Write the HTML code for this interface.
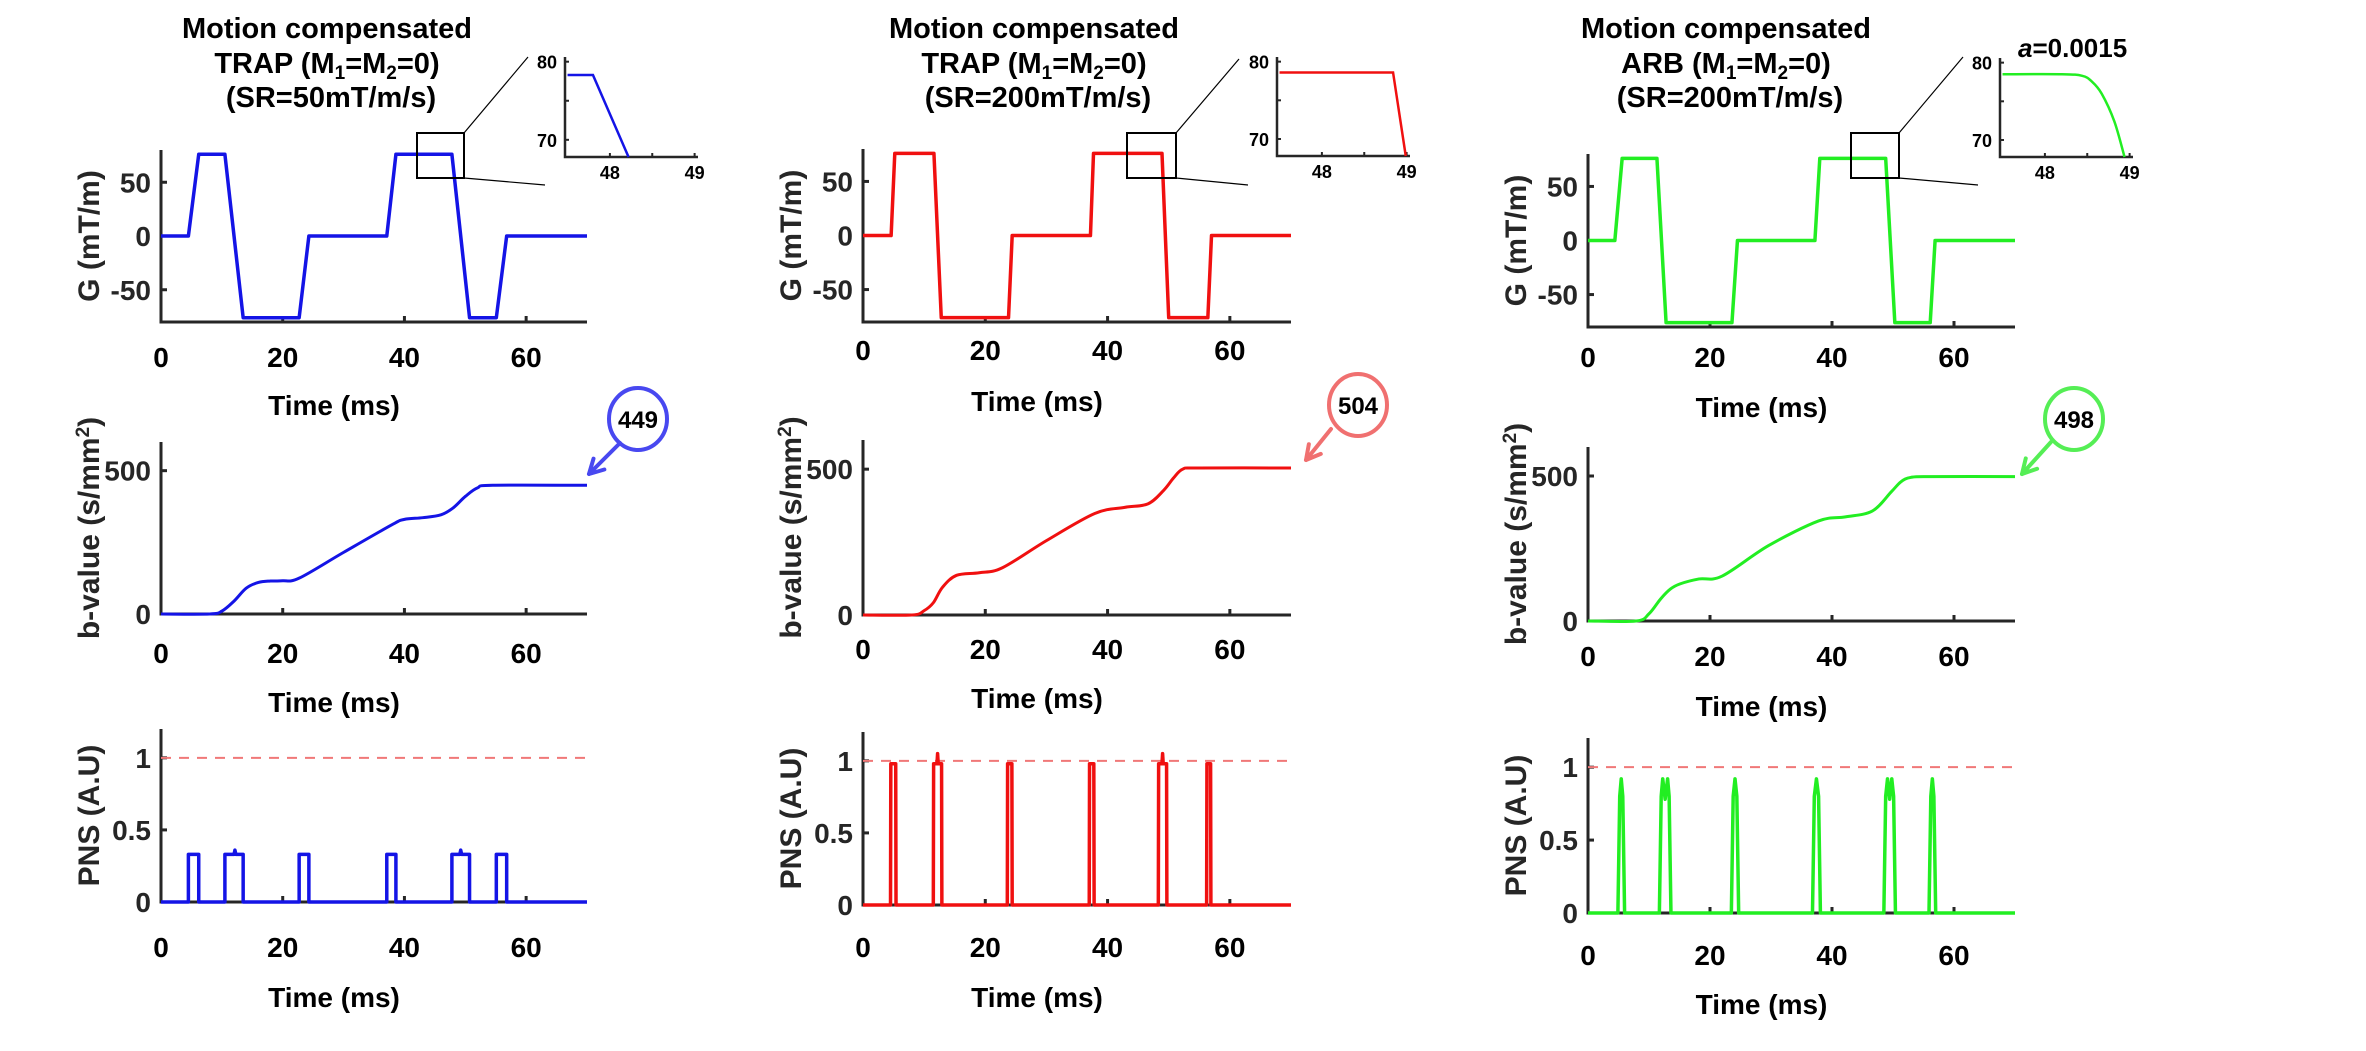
<!DOCTYPE html>
<html><head><meta charset="utf-8"><style>
html,body{margin:0;padding:0;background:#fff;}
svg{display:block;font-family:"Liberation Sans",Arial,sans-serif;font-weight:bold;}
</style></head><body>
<svg id="fig" width="2366" height="1051" viewBox="0 0 2366 1051" xmlns="http://www.w3.org/2000/svg">
<rect width="2366" height="1051" fill="#fff"/>
<g id="titles">
  <text text-anchor="middle" font-size="29">
    <tspan x="331" y="38">Motion compensated</tspan>
    <tspan x="331" y="73">TRAP (M<tspan font-size="19" dy="6">1</tspan><tspan dy="-6">=M</tspan><tspan font-size="19" dy="6">2</tspan><tspan dy="-6">=0)</tspan></tspan>
    <tspan x="331" y="107">(SR=50mT/m/s)</tspan>
  </text>
  <text text-anchor="middle" font-size="29">
    <tspan x="1038" y="38">Motion compensated</tspan>
    <tspan x="1038" y="73">TRAP (M<tspan font-size="19" dy="6">1</tspan><tspan dy="-6">=M</tspan><tspan font-size="19" dy="6">2</tspan><tspan dy="-6">=0)</tspan></tspan>
    <tspan x="1038" y="107">(SR=200mT/m/s)</tspan>
  </text>
  <text text-anchor="middle" font-size="29">
    <tspan x="1730" y="38">Motion compensated</tspan>
    <tspan x="1730" y="73">ARB (M<tspan font-size="19" dy="6">1</tspan><tspan dy="-6">=M</tspan><tspan font-size="19" dy="6">2</tspan><tspan dy="-6">=0)</tspan></tspan>
    <tspan x="1730" y="107">(SR=200mT/m/s)</tspan>
  </text>
  <text x="2018" y="57" font-size="26"><tspan font-style="italic">a</tspan>=0.0015</text>
</g>
</svg>
<script>
// ---------- data ----------
const xTicks = [0, 20, 40, 60];
const gTicks = [-50, 0, 50];
const bTicks = [0, 500];
const pnsTicks = [0, 0.5, 1];
const pnsTickLabels = ["0", "0.5", "1"];
const pnsLimit = 1;

const gValues = [0, 0, 76, 76, -76, -76, 0, 0, 76, 76, -76, -76, 0, 0];
const p1GTime = [0, 4.5, 6.2, 10.5, 13.5, 22.7, 24.3, 37.1, 38.6, 47.8, 50.7, 55.1, 56.8, 70];
const p2GTime = [0, 4.6, 5.2, 11.6, 12.8, 23.8, 24.4, 37.2, 37.7, 48.9, 50.0, 56.4, 57.0, 70];
const p3GTime = [0, 4.4, 5.6, 11.3, 12.8, 23.6, 24.5, 37.2, 38.0, 48.8, 50.3, 56.1, 56.9, 70];

const p1BTime = [0, 8, 10, 12, 14, 16, 18, 20, 22.7, 30, 38, 40, 43, 46, 48, 50, 52, 54.5, 70];
const p1B = [0, 0, 10, 45, 90, 110, 115, 116, 125, 215, 312, 330, 336, 346, 370, 410, 440, 449, 449];
const p2BTime = [0, 8, 10, 11.5, 13, 15.3, 19, 22.8, 30, 37.9, 42.8, 46.6, 49.2, 50.8, 52.3, 54.8, 70];
const p2B = [0, 0, 15, 42, 95, 136, 145, 162, 255, 348, 369, 381, 428, 470, 500, 504, 504];
const p3BTime = [0, 7.9, 10, 11.9, 13.5, 15.1, 18.2, 22, 29.6, 37.8, 42.2, 46.6, 49.7, 51.3, 52.9, 56, 70];
const p3B = [0, 0, 25, 76, 110, 128, 145, 155, 260, 345, 359, 379, 445, 480, 495, 498, 498];
const bFinal = ["449", "504", "498"];

const p1PnsTime = [0, 4.5, 4.5, 6.2, 6.2, 10.5, 10.5, 12.0, 12.15, 12.3, 13.5, 13.5, 22.7, 22.7, 24.3, 24.3, 37.1, 37.1, 38.6, 38.6, 47.8, 47.8, 49.1, 49.25, 49.4, 50.7, 50.7, 55.1, 55.1, 56.8, 56.8, 70];
const p1Pns = [0, 0, 0.33, 0.33, 0, 0, 0.33, 0.33, 0.36, 0.33, 0.33, 0, 0, 0.33, 0.33, 0, 0, 0.33, 0.33, 0, 0, 0.33, 0.33, 0.36, 0.33, 0.33, 0, 0, 0.33, 0.33, 0, 0];
const p2PnsTime = [0, 4.5, 4.55, 5.35, 5.4, 11.5, 11.55, 12.1, 12.2, 12.3, 12.85, 12.9, 23.6, 23.65, 24.35, 24.4, 37.0, 37.05, 37.75, 37.8, 48.3, 48.35, 48.9, 49.0, 49.1, 49.65, 49.7, 56.2, 56.25, 56.85, 56.9, 70];
const p2Pns = [0, 0, 0.98, 0.98, 0, 0, 0.98, 0.98, 1.05, 0.98, 0.98, 0, 0, 0.98, 0.98, 0, 0, 0.98, 0.98, 0, 0, 0.98, 0.98, 1.05, 0.98, 0.98, 0, 0, 0.98, 0.98, 0, 0];
const p3PnsTime = [0, 4.9, 5.2, 5.45, 5.7, 6.0, 11.7, 12.0, 12.25, 12.65, 13.05, 13.3, 13.6, 23.5, 23.8, 24.1, 24.4, 24.7, 36.8, 37.1, 37.45, 37.8, 38.1, 48.5, 48.8, 49.1, 49.45, 49.8, 50.1, 50.4, 55.9, 56.2, 56.45, 56.7, 57.0, 70];
const p3Pns = [0, 0, 0.8, 0.92, 0.8, 0, 0, 0.8, 0.92, 0.78, 0.92, 0.8, 0, 0, 0.8, 0.92, 0.8, 0, 0, 0.8, 0.92, 0.8, 0, 0, 0.8, 0.92, 0.78, 0.92, 0.8, 0, 0, 0.8, 0.92, 0.8, 0, 0];

const insetXTicks = [48, 48.5, 49];
const insetXLabels = ["48", "", "49"];
const insetYTicks = [70, 75, 80];
const insetYLabels = ["70", "", "80"];
const p1InsetTime = [47.5, 47.8, 48.22];
const p1InsetG = [78.3, 78.3, 67.8];
const p2InsetTime = [47.5, 48.84, 48.99];
const p2InsetG = [78.6, 78.6, 67.8];
const p3InsetTime = [47.5, 48.2, 48.44, 48.55, 48.67, 48.82, 48.94];
const p3InsetG = [78.5, 78.5, 78.3, 77.6, 76, 72.4, 67.8];

// ---------- layout ----------
const NS = "http://www.w3.org/2000/svg";
const svg = document.getElementById("fig");
const AX = "#262626";
const panels = [
  {key:"trap50", color:"#1414e6", bubble:"#4848f0", x0:161, x1:587,
   g:{top:150, bot:322, tick:367, lab:415}, b:{top:442, bot:614, tick:663, lab:712}, p:{top:729, bot:902, tick:957, lab:1007},
   gT:p1GTime, bT:p1BTime, bV:p1B, pT:p1PnsTime, pV:p1Pns, iT:p1InsetTime, iG:p1InsetG,
   rect:[417,133,464,178], inset:[565,57,698,157], lineEnds:[[528,57],[545,185]], bub:[638,419], arrow:[[620,443],[589,474]]},
  {key:"trap200", color:"#f01010", bubble:"#f07070", x0:863, x1:1291,
   g:{top:149, bot:322, tick:360, lab:411}, b:{top:440, bot:615, tick:659, lab:708}, p:{top:732, bot:905, tick:957, lab:1007},
   gT:p2GTime, bT:p2BTime, bV:p2B, pT:p2PnsTime, pV:p2Pns, iT:p2InsetTime, iG:p2InsetG,
   rect:[1127,133,1176,178], inset:[1277,57,1410,156], lineEnds:[[1239,59],[1248,185]], bub:[1358,405], arrow:[[1331,429],[1306,460]]},
  {key:"arb200", color:"#22ee22", bubble:"#55ee55", x0:1588, x1:2015,
   g:{top:154, bot:327, tick:367, lab:417}, b:{top:447, bot:621, tick:666, lab:716}, p:{top:738, bot:913, tick:965, lab:1014},
   gT:p3GTime, bT:p3BTime, bV:p3B, pT:p3PnsTime, pV:p3Pns, iT:p3InsetTime, iG:p3InsetG,
   rect:[1851,133,1899,178], inset:[2000,58,2133,157], lineEnds:[[1963,57],[1978,185]], bub:[2074,419], arrow:[[2051,442],[2022,474]]}
];

function el(tag, attrs, parent){
  const e = document.createElementNS(NS, tag);
  for (const k in attrs) e.setAttribute(k, attrs[k]);
  (parent||svg).appendChild(e);
  return e;
}
function linPath(xs, ys){
  return xs.map((x,i)=>(i?"L":"M")+x.toFixed(2)+","+ys[i].toFixed(2)).join("");
}
function smoothPath(xs, ys){
  let d = "M"+xs[0].toFixed(2)+","+ys[0].toFixed(2);
  for (let i=0;i<xs.length-1;i++){
    const x0=xs[Math.max(i-1,0)], y0=ys[Math.max(i-1,0)];
    const x1=xs[i], y1=ys[i], x2=xs[i+1], y2=ys[i+1];
    const x3=xs[Math.min(i+2,xs.length-1)], y3=ys[Math.min(i+2,xs.length-1)];
    const c1x=x1+(x2-x0)/6, c1y=y1+(y2-y0)/6, c2x=x2-(x3-x1)/6, c2y=y2-(y3-y1)/6;
    d += "C"+c1x.toFixed(2)+","+c1y.toFixed(2)+" "+c2x.toFixed(2)+","+c2y.toFixed(2)+" "+x2.toFixed(2)+","+y2.toFixed(2);
  }
  return d;
}

function drawAxes(P, box, ylo, yhi, yTicks, yLabels, ylabel, name){
  const g = el("g", {});
  
  
  const sx = t => P.x0 + (t - 0) / 70 * (P.x1 - P.x0);
  const sy = v => box.bot - (v - ylo) / (yhi - ylo) * (box.bot - box.top);
  const ax = el("path", {d:`M${P.x0},${box.top}V${box.bot}H${P.x1}`, fill:"none", stroke:AX, "stroke-width":3}, g);
  
  
  xTicks.forEach(t=>{
    const x = sx(t);
    el("line", {x1:x, x2:x, y1:box.bot, y2:box.bot-6, stroke:AX, "stroke-width":3}, g);
    const tl = el("text", {x:x, y:box.tick, "text-anchor":"middle", "font-size":28, fill:"#000"}, g);
    tl.textContent = String(t);
    
    
  });
  yTicks.forEach((v,i)=>{
    const y = sy(v);
    el("line", {x1:P.x0, x2:P.x0+6, y1:y, y2:y, stroke:AX, "stroke-width":3}, g);
    const tl = el("text", {x:P.x0-10, y:y+10, "text-anchor":"end", "font-size":28, fill:AX}, g);
    tl.textContent = yLabels[i];
    
    
  });
  const xl = el("text", {x:(P.x0+P.x1)/2 - 40, y:box.lab, "text-anchor":"middle", "font-size":28, fill:"#000"}, g);
  xl.textContent = "Time (ms)";
  
  
  const cy = (box.top+box.bot)/2, cx = P.x0-62;
  const yl = el("text", {x:cx, y:cy, "text-anchor":"middle", "font-size":30, fill:AX, transform:`rotate(-90 ${cx} ${cy})`}, g);
  yl.innerHTML = ylabel;
  
  
  return {sx, sy, g};
}

panels.forEach((P, pi)=>{
  const G = drawAxes(P, P.g, -80, 80, gTicks, gTicks.map(String), "G (mT/m)", P.key+"-gradient");
  const gl = el("path", {d:linPath(P.gT.map(G.sx), gValues.map(G.sy)), fill:"none", stroke:P.color, "stroke-width":3.5, "stroke-linejoin":"round"});
  
  

  const r = P.rect;
  const zr = el("rect", {x:r[0], y:r[1], width:r[2]-r[0], height:r[3]-r[1], fill:"none", stroke:"#000", "stroke-width":2});
  
  
  const c1 = el("line", {x1:r[2], y1:r[1], x2:P.lineEnds[0][0], y2:P.lineEnds[0][1], stroke:"#000", "stroke-width":1.2});
  
  
  const c2 = el("line", {x1:r[2], y1:r[3], x2:P.lineEnds[1][0], y2:P.lineEnds[1][1], stroke:"#000", "stroke-width":1.2});
  
  

  const I = P.inset;
  const ix = t => I[0] + (t - 47.47) / (49.04 - 47.47) * (I[2]-I[0]);
  const iy = v => I[3] - (v - 67.8) / (80.6 - 67.8) * (I[3]-I[1]);
  const ig = el("g", {});
  
  
  el("path", {d:`M${I[0]},${I[1]}V${I[3]}H${I[2]}`, fill:"none", stroke:AX, "stroke-width":2.5}, ig);
  insetXTicks.forEach((t,i)=>{
    el("line", {x1:ix(t), x2:ix(t), y1:I[3], y2:I[3]-4, stroke:AX, "stroke-width":2}, ig);
    if (insetXLabels[i]) {
      const tl = el("text", {x:ix(t), y:I[3]+22, "text-anchor":"middle", "font-size":18, fill:"#000"}, ig);
      tl.textContent = insetXLabels[i];
      
      
    }
  });
  insetYTicks.forEach((v,i)=>{
    el("line", {x1:I[0], x2:I[0]+4, y1:iy(v), y2:iy(v), stroke:AX, "stroke-width":2}, ig);
    if (insetYLabels[i]) {
      const tl = el("text", {x:I[0]-8, y:iy(v)+7, "text-anchor":"end", "font-size":18, fill:"#000"}, ig);
      tl.textContent = insetYLabels[i];
      
      
    }
  });
  const il = el("path", {d:(pi===2?smoothPath:linPath)(P.iT.map(ix), P.iG.map(iy)), fill:"none", stroke:P.color, "stroke-width":2.5}, ig);
  
  

  const B = drawAxes(P, P.b, 0, 600, bTicks, bTicks.map(String), "b-value (s/mm<tspan font-size='19' dy='-10'>2</tspan><tspan dy='10'>)</tspan>", P.key+"-bvalue");
  const bl = el("path", {d:smoothPath(P.bT.map(B.sx), P.bV.map(B.sy)), fill:"none", stroke:P.color, "stroke-width":3});
  
  

  const bg = el("g", {});
  
  
  el("ellipse", {cx:P.bub[0], cy:P.bub[1], rx:29, ry:31, fill:"#fff", stroke:P.bubble, "stroke-width":4}, bg);
  const bt = el("text", {x:P.bub[0], y:P.bub[1]+9, "text-anchor":"middle", "font-size":24, fill:"#000"}, bg);
  bt.textContent = bFinal[pi];
  
  
  const a0 = P.arrow[0], a1 = P.arrow[1];
  el("line", {x1:a0[0], y1:a0[1], x2:a1[0], y2:a1[1], stroke:P.bubble, "stroke-width":4, "stroke-linecap":"round"}, bg);
  const ang = Math.atan2(a1[1]-a0[1], a1[0]-a0[0]);
  const L = 16, sp = 0.5;
  const h1 = [a1[0]-L*Math.cos(ang-sp), a1[1]-L*Math.sin(ang-sp)];
  const h2 = [a1[0]-L*Math.cos(ang+sp), a1[1]-L*Math.sin(ang+sp)];
  el("path", {d:`M${h1[0]},${h1[1]}L${a1[0]},${a1[1]}L${h2[0]},${h2[1]}`, fill:"none", stroke:P.bubble, "stroke-width":4, "stroke-linecap":"round", "stroke-linejoin":"round"}, bg);

  const N = drawAxes(P, P.p, 0, 1.2, pnsTicks, pnsTickLabels, "PNS (A.U)", P.key+"-pns");
  const dl = el("line", {x1:P.x0, x2:P.x1, y1:N.sy(pnsLimit), y2:N.sy(pnsLimit), stroke:"#f07878", "stroke-width":2, "stroke-dasharray":"10,8"});
  
  
  const pl = el("path", {d:linPath(P.pT.map(N.sx), P.pV.map(N.sy)), fill:"none", stroke:P.color, "stroke-width":3.5, "stroke-linejoin":"round"});
  
  
});
</script>
</body></html>
